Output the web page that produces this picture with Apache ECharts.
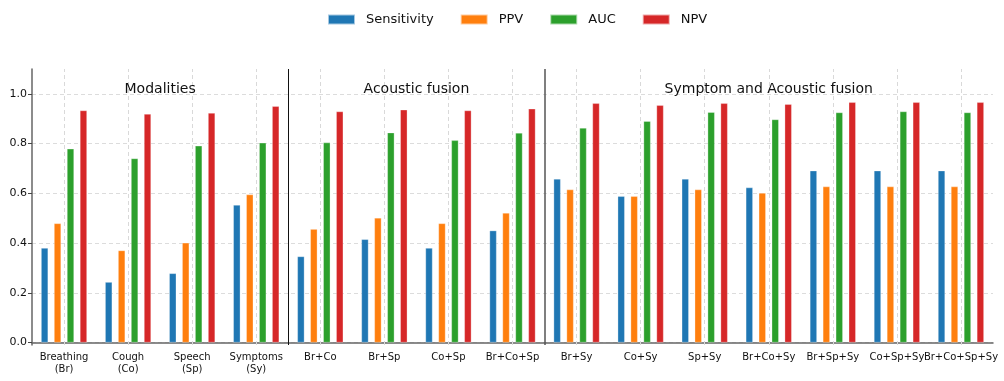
<!DOCTYPE html>
<html>
<head>
<meta charset="utf-8">
<script src="https://cdn.jsdelivr.net/npm/echarts@6/dist/echarts.min.js"></script>
<style>
  html, body { margin: 0; padding: 0; background: #fff; }
  #chart { width: 1004px; height: 381px; }
</style>
</head>
<body>
<div id="chart"></div>
<script>
// categories (x axis)
var categories = [
  'Breathing\n(Br)', 'Cough\n(Co)', 'Speech\n(Sp)', 'Symptoms\n(Sy)',
  'Br+Co', 'Br+Sp', 'Co+Sp', 'Br+Co+Sp',
  'Br+Sy', 'Co+Sy', 'Sp+Sy', 'Br+Co+Sy', 'Br+Sp+Sy', 'Co+Sp+Sy', 'Br+Co+Sp+Sy'
];
var sensitivity = [0.380, 0.243, 0.278, 0.553, 0.346, 0.415, 0.380, 0.450, 0.658, 0.588, 0.658, 0.623, 0.691, 0.691, 0.691];
var ppv         = [0.479, 0.370, 0.401, 0.595, 0.456, 0.501, 0.479, 0.521, 0.615, 0.588, 0.615, 0.601, 0.627, 0.627, 0.627];
var auc         = [0.779, 0.740, 0.791, 0.803, 0.804, 0.844, 0.813, 0.843, 0.863, 0.890, 0.926, 0.897, 0.925, 0.929, 0.925];
var npv         = [0.933, 0.919, 0.923, 0.950, 0.929, 0.936, 0.933, 0.940, 0.962, 0.954, 0.962, 0.958, 0.966, 0.966, 0.966];

var seriesNames = ['Sensitivity', 'PPV', 'AUC', 'NPV'];
var colors = ['#1f77b4', '#ff7f0e', '#2ca02c', '#d62728'];

// groups of categories
var sections = ['Modalities', 'Acoustic fusion', 'Symptom and Acoustic fusion'];
var sectionSizes = [4, 4, 7];
var yTicks = [0, 0.2, 0.4, 0.6, 0.8, 1.0];

var FONT = 'DejaVu Sans';

// section boundaries / centers in category units
var bounds = [];
var centers = [];
var acc = 0;
sectionSizes.forEach(function (n, i) {
  centers.push(acc + n / 2);
  acc += n;
  if (i < sectionSizes.length - 1) bounds.push(acc);
});

var chart = echarts.init(document.getElementById('chart'));

var values = [sensitivity, ppv, auc, npv];
var series = seriesNames.map(function (name, i) {
  return {
    name: name,
    type: 'bar',
    data: values[i],
    barWidth: 7,
    barGap: '85%',
    z: 3,
    itemStyle: { color: colors[i], borderColor: 'rgba(255,255,255,0.6)', borderWidth: 0.5 }
  };
});

// vertical dashed grid lines at category centers
series.push({
  type: 'scatter',
  data: [],
  xAxisIndex: 0,
  silent: true,
  z: 1,
  markLine: {
    symbol: 'none',
    silent: true,
    label: { show: false },
    lineStyle: { color: '#d9d9d9', type: [4, 3], width: 1 },
    data: categories.map(function (c) { return { xAxis: c }; })
  }
});

// section separators and titles
series.push({
  type: 'scatter',
  data: [],
  xAxisIndex: 1,
  silent: true,
  z: 4,
  markLine: {
    symbol: 'none',
    silent: true,
    label: { show: false },
    data: bounds.map(function (b, i) {
      return {
        xAxis: b,
        lineStyle: i === 0 ? { color: '#111', width: 1, type: 'solid' } : { color: '#555', width: 1.5, type: 'solid' }
      };
    })
  },
  markPoint: {
    symbol: 'circle',
    symbolSize: 0,
    silent: true,
    label: {
      show: true,
      position: 'inside',
      color: '#111',
      fontFamily: FONT,
      fontSize: 14,
      formatter: function (p) { return p.name; }
    },
    data: sections.map(function (s, i) {
      return { name: s, coord: [centers[i], 1.017] };
    })
  }
});

var option = {
  animation: false,
  textStyle: { fontFamily: FONT },
  legend: {
    data: seriesNames,
    top: 8,
    left: 322,
    icon: 'rect',
    itemWidth: 27,
    itemHeight: 10,
    itemGap: 26,
    textStyle: { fontFamily: FONT, fontSize: 13, color: '#111', padding: [0, 0, 0, 6] }
  },
  grid: { left: 32, right: 11, top: 69, bottom: 36, containLabel: false },
  xAxis: [
    {
      type: 'category',
      data: categories,
      axisLine: { lineStyle: { color: '#666', width: 1.5 } },
      axisTick: { alignWithLabel: true, length: 4, lineStyle: { color: '#444' } },
      axisLabel: { interval: 0, fontFamily: FONT, fontSize: 10, color: '#111', lineHeight: 11.5, margin: 7 },
      splitLine: { show: false }
    },
    {
      type: 'value',
      min: 0,
      max: categories.length,
      show: false
    }
  ],
  yAxis: {
    type: 'value',
    min: -0.01,
    max: 1.1,
    axisLine: { show: true, lineStyle: { color: '#666', width: 1.5 } },
    axisTick: { show: true, length: 4, customValues: yTicks, lineStyle: { color: '#444' } },
    axisLabel: {
      fontFamily: FONT, fontSize: 11, color: '#111', margin: 5,
      customValues: yTicks,
      formatter: function (v) { return v.toFixed(1); }
    },
    splitLine: { show: true, lineStyle: { color: '#dcdcdc', type: [4, 3], width: 1 } }
  },
  series: series
};

chart.setOption(option);
window.addEventListener('resize', function () {
  chart.resize();
});
</script>
</body>
</html>
